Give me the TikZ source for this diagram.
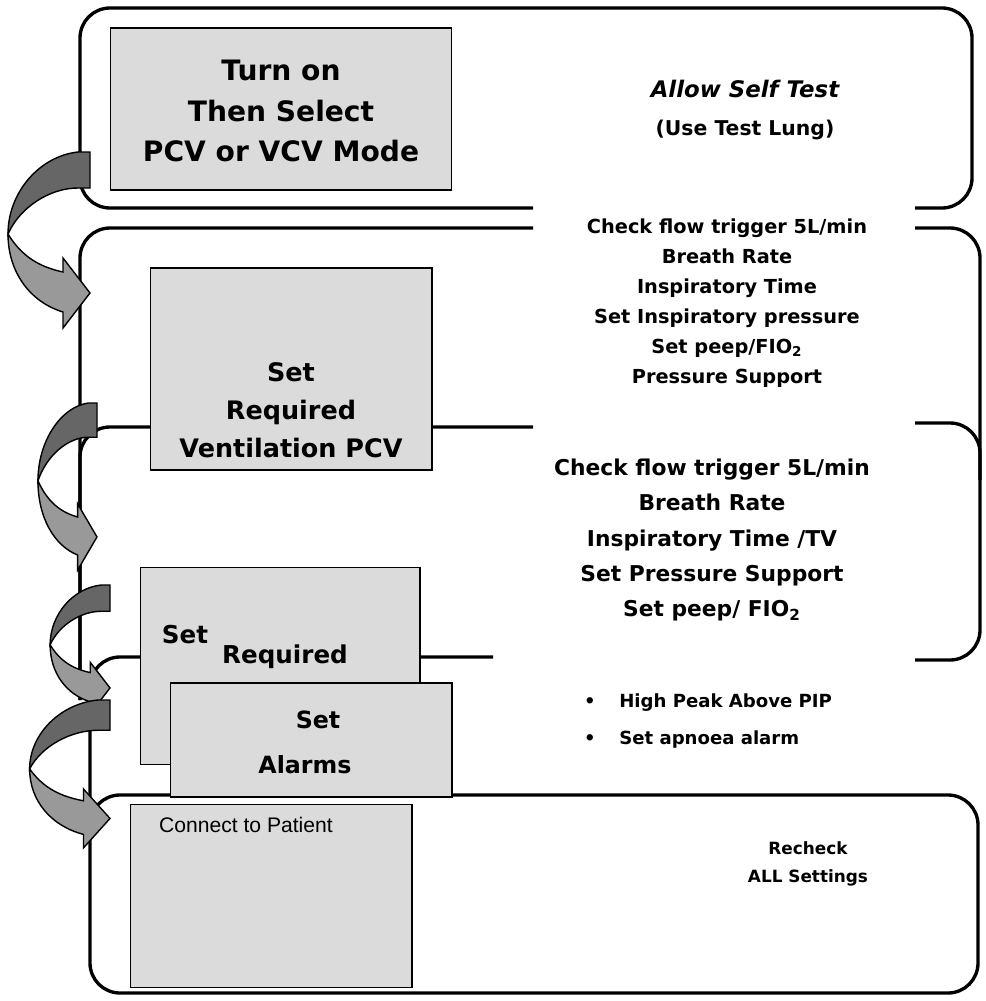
\documentclass[tikz,border=0pt]{standalone}
\usepackage{fontspec}
\setmainfont{DejaVu Sans}
\newfontfamily\arialfont{Liberation Sans}
\usetikzlibrary{positioning}

\begin{document}
\begin{tikzpicture}[x=0.02cm, y=-0.02cm,
  frame/.style={line width=1.9pt, rounded corners=0.6cm},
  stepbox/.style={draw, line width=0.6pt, fill=black!14, inner sep=0pt},
  boxtext/.style={font=\bfseries\fontsize{14}{21.5}\selectfont, align=center},
  sidetext/.style={font=\bfseries\fontsize{12}{20}\selectfont, align=center},
  curlarrow/.pic={
    \filldraw[fill=black!60, line width=0.8pt] (0,0) -- (-12,0) .. controls (-50,4) and (-82,40) .. (-82,82)
      .. controls (-70,55) and (-40,36) .. (-12,36) -- (0,36) -- cycle;
    \filldraw[fill=black!40, line width=0.8pt] (-82,82) .. controls (-68,105) and (-50,115) .. (-27,120)
      -- (-27,106) -- (0,141) -- (-27,176) -- (-27,160) .. controls (-60,150) and (-82,120) .. (-82,82) -- cycle;
  }
]
  \useasboundingbox (0,0) rectangle (986,1001);

  % Panels
  \draw[frame] (533,208) -| (80,8) -| (972,208) -- (915,208);
  \draw[frame] (533,228) -| (80,700);
  \draw[frame] (915,228) -| (980,660) -- (915,660);
  \draw[frame] (533,427) -| (80,700);
  \draw[frame] (915,423) -| (980,480);
  \draw[frame] (493,657) -| (90,820);
  \draw[frame] (90,795) rectangle (978,993);

  % Step boxes
  \node[stepbox, minimum width=6.84cm, minimum height=3.24cm] (turnon) at (281,109) {};
  \node[boxtext, font=\bfseries\fontsize{16}{23}\selectfont] (turnon-t) at (281,111) {Turn on\\Then Select\\PCV or VCV Mode};

  \node[stepbox, minimum width=5.64cm, minimum height=4.04cm] (ventpcv) at (291,369) {};
  \node[boxtext, font=\bfseries\fontsize{14.5}{21.5}\selectfont] (ventpcv-t) at (291,410) {Set\\Required\\Ventilation PCV};

  \node[stepbox, minimum width=5.6cm, minimum height=3.94cm] (ventvcv) at (280,666) {};
  \node[boxtext] (ventvcv-a) at (185,635) {Set};
  \node[boxtext] (ventvcv-b) at (285,657) {Required};

  \node[stepbox, minimum width=5.64cm, minimum height=2.28cm] (alarms) at (311,740) {};
  \node[boxtext, font=\bfseries\fontsize{13.5}{16}\selectfont] (alarms-a) at (318,720) {Set};
  \node[boxtext, font=\bfseries\fontsize{13.5}{16}\selectfont] (alarms-b) at (305,765) {Alarms};

  \node[stepbox, minimum width=5.64cm, minimum height=3.66cm] (patient) at (271,896) {};
  \node[anchor=west, font=\arialfont\fontsize{12}{14}\selectfont] (patient-t) at (153,825) {Connect to Patient};

  % Side notes
  \node[sidetext, font=\bfseries\fontsize{11.6}{21.5}\selectfont] (selftest) at (745,110)
    {{\itshape\fontsize{13}{21.5}\selectfont Allow Self Test}\\(Use Test Lung)};
  \node[sidetext, font=\bfseries\fontsize{11}{17}\selectfont] (pcvnotes) at (727,303)
    {Check flow trigger 5L/min\\Breath Rate\\Inspiratory Time\\Set Inspiratory pressure\\Set peep/FIO\textsubscript{2}\\Pressure Support};
  \node[sidetext, font=\bfseries\fontsize{12.4}{20}\selectfont] (vcvnotes) at (712,540)
    {Check flow trigger 5L/min\\Breath Rate\\Inspiratory Time /TV\\Set Pressure Support\\Set peep/ FIO\textsubscript{2}};
  \node[sidetext, align=left, anchor=west, font=\bfseries\fontsize{10.3}{21.5}\selectfont] (alarmnotes) at (578,721)
    {\textbullet\hspace{1.3em}High Peak Above PIP\\\textbullet\hspace{1.3em}Set apnoea alarm};
  \node[sidetext, font=\bfseries\fontsize{9.6}{16}\selectfont] (recheck) at (808,864) {Recheck\\ALL Settings};

  % Curved arrows
  \pic at (90,152) {curlarrow};
  \pic[xscale=0.72, yscale=0.95] at (97,403) {curlarrow};
  \pic[xscale=0.73, yscale=0.73] at (110,585) {curlarrow};
  \pic[xscale=0.98, yscale=0.84] at (110,700) {curlarrow};
\end{tikzpicture}
\end{document}
